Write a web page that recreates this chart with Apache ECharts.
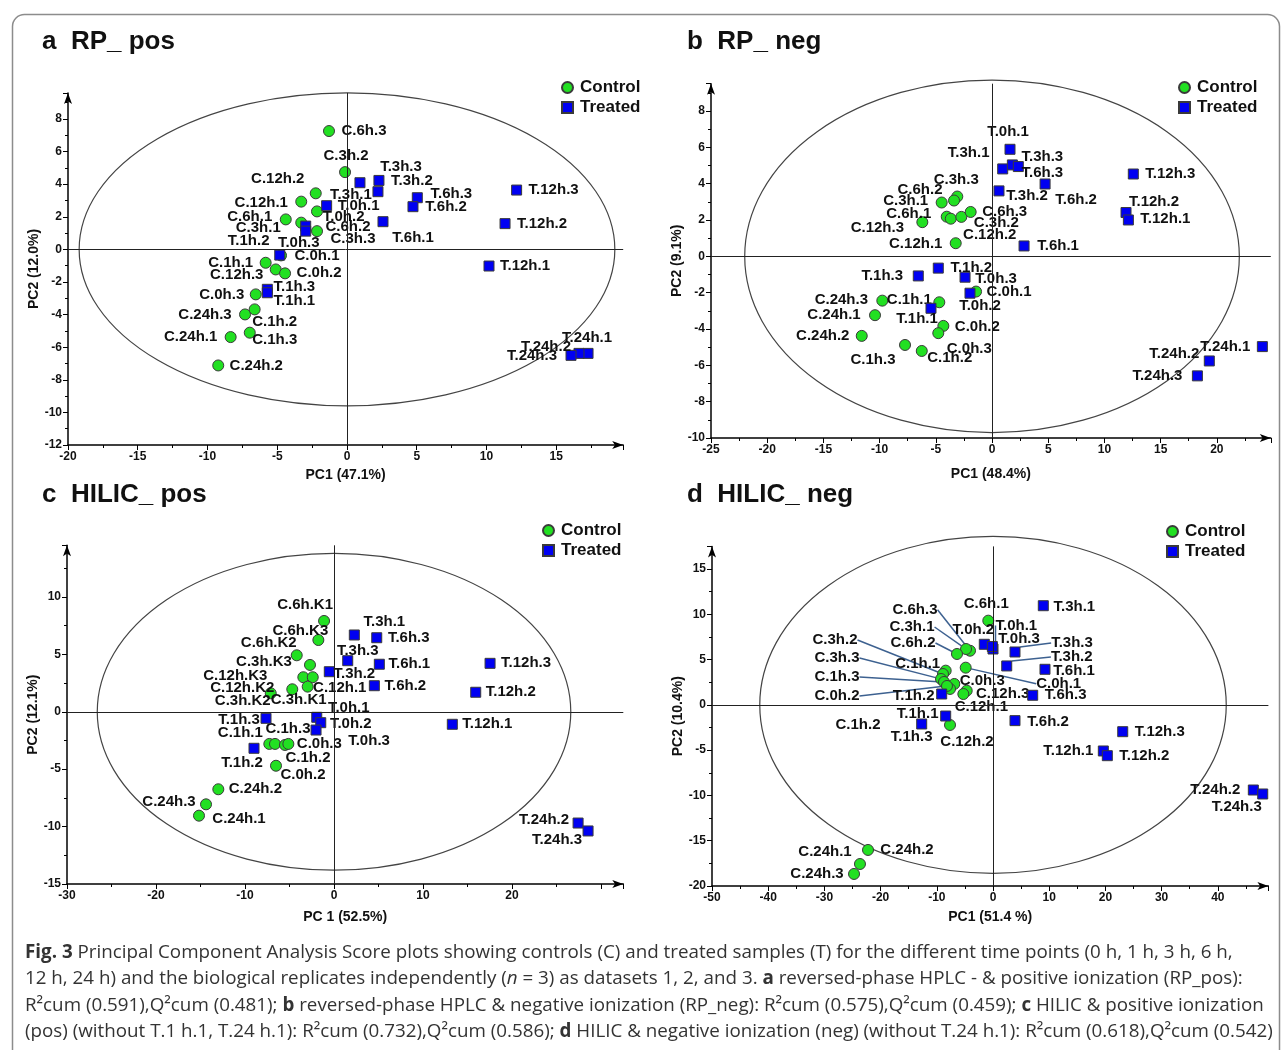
<!DOCTYPE html>
<html lang="en">
<head>
<meta charset="UTF-8">
<title>PCA score plots</title>
<script src="https://cdn.jsdelivr.net/npm/echarts@6/dist/echarts.min.js"></script>
<style>html,body{margin:0;padding:0;background:#fff}#chart{width:1284px;height:1050px}</style>
</head>
<body>
<div id="chart"></div>
<script>
// ---- data: [name, PC1, PC2] ----
var aControl = [
  ['C.6h.3', -1.29, 7.26], ['C.3h.2', -0.14, 4.74], ['C.12h.2', -2.24, 3.44], ['C.12h.1', -3.28, 2.93],
  ['C.6h.1', -4.39, 1.84], ['C.3h.1', -3.28, 1.64], ['C.6h.2', -2.15, 2.33], ['C.3h.3', -2.15, 1.12],
  ['C.0h.1', -4.73, -0.37], ['C.1h.1', -5.83, -0.82], ['C.12h.3', -5.11, -1.23], ['C.0h.2', -4.44, -1.47],
  ['C.0h.3', -6.54, -2.76], ['C.24h.3', -7.31, -3.99], ['C.1h.2', -6.62, -3.68], ['C.24h.1', -8.34, -5.38],
  ['C.1h.3', -6.97, -5.11], ['C.24h.2', -9.23, -7.12]
];
var aTreated = [
  ['T.3h.3', 0.93, 4.09], ['T.3h.2', 2.29, 4.23], ['T.3h.1', 2.22, 3.54], ['T.6h.3', 5.04, 3.17],
  ['T.6h.2', 4.73, 2.62], ['T.6h.1', 2.58, 1.70], ['T.0h.1', -1.46, 2.68], ['T.0h.2', -2.96, 1.43],
  ['T.1h.2', -2.96, 1.12], ['T.0h.3', -4.82, -0.35], ['T.1h.3', -5.71, -2.45], ['T.1h.1', -5.71, -2.66],
  ['T.12h.3', 12.16, 3.64], ['T.12h.2', 11.33, 1.58], ['T.12h.1', 10.18, -1.02],
  ['T.24h.1', 17.28, -6.38], ['T.24h.2', 16.63, -6.38], ['T.24h.3', 16.06, -6.50]
];
var bControl = [
  ['C.3h.3', -3.09, 3.29], ['C.6h.2', -3.38, 3.07], ['C.3h.1', -4.48, 2.96], ['C.6h.1', -4.03, 2.18],
  ['C.12h.2', -3.67, 2.07], ['C.3h.2', -2.73, 2.17], ['C.6h.3', -1.90, 2.44], ['C.12h.3', -6.20, 1.88],
  ['C.12h.1', -3.23, 0.72], ['C.0h.1', -1.42, -1.94], ['C.1h.1', -4.69, -2.53], ['C.24h.3', -9.76, -2.44],
  ['C.24h.1', -10.41, -3.24], ['C.24h.2', -11.59, -4.38], ['C.0h.2', -4.33, -3.83], ['C.0h.3', -4.78, -4.23],
  ['C.1h.3', -7.74, -4.88], ['C.1h.2', -6.25, -5.21]
];
var bTreated = [
  ['T.0h.1', 1.60, 5.89], ['T.3h.1', 0.95, 4.81], ['T.3h.3', 1.81, 5.03], ['T.6h.3', 2.34, 4.94],
  ['T.3h.2', 0.62, 3.60], ['T.6h.2', 4.72, 3.98], ['T.6h.1', 2.85, 0.57], ['T.1h.2', -4.78, -0.65],
  ['T.1h.3', -6.56, -1.08], ['T.0h.3', -2.40, -1.15], ['T.0h.2', -1.96, -2.03], ['T.1h.1', -5.43, -2.86],
  ['T.12h.3', 12.57, 4.53], ['T.12h.2', 11.92, 2.41], ['T.12h.1', 12.13, 2.00],
  ['T.24h.1', 24.05, -4.97], ['T.24h.2', 19.33, -5.76], ['T.24h.3', 18.27, -6.58]
];
var cControl = [
  ['C.6h.K1', -1.12, 7.91], ['C.6h.K3', -1.76, 6.25], ['C.6h.K2', -4.19, 4.92], ['C.3h.K3', -2.70, 4.08],
  ['C.12h.K3', -3.45, 3.01], ['C.12h.1', -2.39, 3.01], ['C.3h.K1', -2.96, 2.19], ['C.12h.K2', -4.69, 1.96],
  ['C.3h.K2', -7.11, 1.61], ['C.1h.1', -7.27, -2.80], ['C.1h.3', -6.63, -2.80], ['C.1h.2', -5.51, -2.89],
  ['C.0h.3', -5.13, -2.80], ['C.0h.2', -6.52, -4.70], ['C.24h.2', -13.0, -6.75], ['C.24h.3', -14.38, -8.06],
  ['C.24h.1', -15.17, -9.05]
];
var cTreated = [
  ['T.3h.1', 2.28, 6.69], ['T.6h.3', 4.80, 6.45], ['T.3h.3', 1.54, 4.45], ['T.3h.2', -0.53, 3.49],
  ['T.6h.1', 5.09, 4.14], ['T.6h.2', 4.53, 2.27], ['T.12h.3', 17.53, 4.22], ['T.12h.2', 15.92, 1.70],
  ['T.12h.1', 13.29, -1.09], ['T.0h.1', -1.94, -0.48], ['T.0h.2', -1.49, -0.95], ['T.0h.3', -2.02, -1.59],
  ['T.1h.3', -7.64, -0.57], ['T.1h.2', -8.99, -3.18], ['T.24h.2', 27.42, -9.69], ['T.24h.3', 28.54, -10.38]
];
var dControl = [
  ['C.6h.1', -0.84, 9.30], ['C.1h.1', -8.42, 3.78], ['C.0h.3', -6.89, 2.31], ['C.12h.3', -4.68, 1.57],
  ['C.12h.1', -5.28, 1.20], ['C.1h.2', -7.65, 1.76], ['C.12h.2', -7.65, -2.22], ['C.24h.2', -22.24, -16.02],
  ['C.24h.1', -23.67, -17.57], ['C.24h.3', -24.73, -18.67]
];
var dControlLinked = [
  ['C.6h.3', -4.09, 5.98], ['C.3h.1', -4.80, 6.17], ['C.6h.2', -6.41, 5.62], ['C.3h.2', -8.90, 3.41],
  ['C.3h.3', -9.25, 2.86], ['C.1h.3', -8.72, 2.53], ['C.0h.2', -8.19, 2.09], ['C.0h.1', -4.86, 4.11]
];
var dTreated = [
  ['T.3h.1', 8.95, 10.95], ['T.0h.2', -1.55, 6.69], ['T.0h.3', 0.0, 6.17], ['T.6h.1', 9.25, 3.93],
  ['T.6h.3', 7.06, 1.06], ['T.6h.2', 3.91, -1.74], ['T.1h.2', -9.13, 1.20], ['T.1h.1', -8.42, -1.23],
  ['T.1h.3', -12.69, -2.11], ['T.12h.3', 23.08, -2.96], ['T.12h.1', 19.63, -5.09], ['T.12h.2', 20.34, -5.61],
  ['T.24h.2', 46.32, -9.40], ['T.24h.3', 47.99, -9.84]
];
var dTreatedLinked = [
  ['T.0h.1', -0.12, 6.45], ['T.3h.3', 3.91, 5.84], ['T.3h.2', 2.44, 4.30]
];
// confidence ellipse semi-axes [PC1, PC2]
var aEllipse = [19.2, 9.6];
var bEllipse = [22.0, 9.7];
var cEllipse = [26.6, 13.8];
var dEllipse = [41.5, 18.6];

// label offsets in px from the point (style only)
var aOffsets = {
  'C.6h.3': [35, 0], 'C.3h.2': [1, -16], 'C.12h.2': [-38, -14], 'C.12h.1': [-40, 1], 'C.6h.1': [-36, -3],
  'C.3h.1': [-43, 5], 'C.6h.2': [31, 15], 'C.3h.3': [36, 8], 'C.0h.1': [36, 0], 'C.1h.1': [-35, 0],
  'C.12h.3': [-39, 5], 'C.0h.2': [34, 0], 'C.0h.3': [-34, 0], 'C.24h.3': [-40, 0], 'C.1h.2': [20, 12],
  'C.24h.1': [-40, 0], 'C.1h.3': [25, 7], 'C.24h.2': [38, 0],
  'T.3h.3': [41, -16], 'T.3h.2': [33, 0], 'T.3h.1': [-27, 3], 'T.6h.3': [34, -4], 'T.6h.2': [33, 0],
  'T.6h.1': [30, 16], 'T.0h.1': [32, 0], 'T.0h.2': [38, -9], 'T.1h.2': [-57, 10], 'T.0h.3': [19, -12],
  'T.1h.3': [27, -2], 'T.1h.1': [27, 8], 'T.12h.3': [37, 0], 'T.12h.2': [37, 0], 'T.12h.1': [36, 0],
  'T.24h.1': [-1, -16], 'T.24h.2': [-33, -7], 'T.24h.3': [-39, 1]
};
var bOffsets = {
  'C.3h.3': [-1, -17], 'C.6h.2': [-34, -11], 'C.3h.1': [-36, -2], 'C.6h.1': [-38, -3], 'C.12h.2': [39, 16],
  'C.3h.2': [35, 6], 'C.6h.3': [34, 0], 'C.12h.3': [-45, 6], 'C.12h.1': [-40, 1], 'C.0h.1': [33, 0],
  'C.1h.1': [-30, -2], 'C.24h.3': [-41, -1], 'C.24h.1': [-41, 0], 'C.24h.2': [-39, 0], 'C.0h.2': [34, 1],
  'C.0h.3': [31, 16], 'C.1h.3': [-32, 15], 'C.1h.2': [28, 7],
  'T.0h.1': [-2, -17], 'T.3h.1': [-34, -16], 'T.3h.3': [30, -8], 'T.6h.3': [24, 6], 'T.3h.2': [28, 5],
  'T.6h.2': [31, 16], 'T.6h.1': [34, 0], 'T.1h.2': [33, 0], 'T.1h.3': [-36, 0], 'T.0h.3': [31, 2],
  'T.0h.2': [10, 13], 'T.1h.1': [-14, 11], 'T.12h.3': [37, 0], 'T.12h.2': [28, -11], 'T.12h.1': [37, -1],
  'T.24h.1': [-37, 0], 'T.24h.2': [-35, -7], 'T.24h.3': [-40, 0]
};
var cOffsets = {
  'C.6h.K1': [-19, -16], 'C.6h.K3': [-18, -9], 'C.6h.K2': [-28, -12], 'C.3h.K3': [-46, -3],
  'C.12h.K3': [-68, -1], 'C.12h.1': [27, 11], 'C.3h.K1': [-9, 13], 'C.12h.K2': [-50, -1], 'C.3h.K2': [-28, 8],
  'C.1h.1': [-29, -11], 'C.1h.3': [13, -15], 'C.1h.2': [23, 13], 'C.0h.3': [31, 0], 'C.0h.2': [27, 9],
  'C.24h.2': [37, 0], 'C.24h.3': [-37, -2], 'C.24h.1': [40, 3],
  'T.3h.1': [30, -13], 'T.6h.3': [32, 0], 'T.3h.3': [10, -10], 'T.3h.2': [25, 2], 'T.6h.1': [30, 0],
  'T.6h.2': [31, 0], 'T.12h.3': [36, 0], 'T.12h.2': [35, 0], 'T.12h.1': [35, 0], 'T.0h.1': [32, -9],
  'T.0h.2': [30, 1], 'T.0h.3': [53, 11], 'T.1h.3': [-27, 2], 'T.1h.2': [-12, 15],
  'T.24h.2': [-34, -3], 'T.24h.3': [-31, 9]
};
var dOffsets = {
  'C.6h.1': [-2, -17], 'C.6h.3': [-55, -41], 'C.3h.1': [-54, -22], 'C.6h.2': [-44, -11], 'C.3h.2': [-108, -34],
  'C.3h.3': [-104, -21], 'C.1h.3': [-107, -5], 'C.0h.2': [-110, 10], 'C.1h.1': [-28, -7], 'C.0h.1': [93, 16],
  'C.0h.3': [28, -3], 'C.12h.3': [36, 3], 'C.12h.1': [18, 13], 'C.1h.2': [-92, 36], 'C.12h.2': [17, 17],
  'C.24h.2': [39, 0], 'C.24h.1': [-35, -12], 'C.24h.3': [-37, 0],
  'T.3h.1': [31, 1], 'T.0h.2': [-11, -14], 'T.0h.1': [24, -21], 'T.0h.3': [26, -10], 'T.3h.3': [57, -9],
  'T.3h.2': [65, -9], 'T.6h.1': [29, 2], 'T.6h.3': [33, 0], 'T.6h.2': [33, 1], 'T.1h.2': [-28, 2],
  'T.1h.1': [-28, -2], 'T.1h.3': [-10, 13], 'T.12h.3': [37, 0], 'T.12h.1': [-35, 0], 'T.12h.2': [37, 0],
  'T.24h.2': [-38, 0], 'T.24h.3': [-26, 13]
};

var FONT = '"Liberation Sans", Arial, sans-serif';
var CAPFONT = '"Open Sans", "Noto Sans", sans-serif';
var CAPSIZE = 18.8;
var GREEN = '#22e022';
var BLUE = '#0000f2';

var myChart = echarts.init(document.getElementById('chart'));

function toItems(rows) {
  return rows.map(function (r) { return { name: r[0], value: [r[1], r[2]] }; });
}

function pointSeries(name, k, rows, offsets, linked) {
  var isC = name === 'Control';
  var s = {
    name: name,
    type: 'scatter',
    xAxisIndex: k,
    yAxisIndex: k,
    data: toItems(rows),
    symbol: isC ? 'circle' : 'rect',
    symbolSize: isC ? 11 : 10,
    z: isC ? 3 : 4,
    itemStyle: { color: isC ? GREEN : BLUE, borderColor: '#3a3a3a', borderWidth: 1, opacity: 1 },
    label: {
      show: true, position: 'inside', formatter: '{b}',
      fontFamily: FONT, fontWeight: 'bold', fontSize: 15, color: '#111'
    },
    labelLayout: function (p) {
      var o = offsets[p.text] || [0, 0];
      return { dx: o[0], dy: o[1] };
    },
    emphasis: { disabled: true }
  };
  if (linked) {
    s.labelLine = { show: true, lineStyle: { color: '#3d6190', width: 1.5 } };
  }
  if (!linked && isC) {
    s.markLine = {
      silent: true, symbol: 'none', animation: false,
      label: { show: false },
      lineStyle: { color: '#222', width: 1, type: 'solid' },
      data: [{ xAxis: 0 }, { yAxis: 0 }]
    };
  }
  return s;
}

function ellipseSeries(k, axes) {
  return {
    type: 'custom',
    xAxisIndex: k,
    yAxisIndex: k,
    silent: true,
    z: 1,
    data: [[0, 0, axes[0], axes[1]]],
    encode: { x: 0, y: 1 },
    renderItem: function (params, api) {
      var c = api.coord([api.value(0), api.value(1)]);
      var rx = api.size([api.value(2), 0])[0];
      var ry = api.size([0, api.value(3)])[1];
      var d = 'M' + (c[0] - rx) + ' ' + c[1] +
        ' A' + rx + ' ' + ry + ' 0 1 0 ' + (c[0] + rx) + ' ' + c[1] +
        ' A' + rx + ' ' + ry + ' 0 1 0 ' + (c[0] - rx) + ' ' + c[1] + ' Z';
      return {
        type: 'path',
        shape: { pathData: d },
        style: { fill: 'none', stroke: '#444', lineWidth: 1.2 }
      };
    }
  };
}

function axis(k, min, max, interval, name, gap, lastLabel) {
  return {
    gridIndex: k,
    type: 'value',
    min: min,
    max: max,
    interval: interval,
    name: name,
    nameLocation: 'middle',
    nameGap: gap,
    nameTextStyle: { fontFamily: FONT, fontWeight: 'bold', fontSize: 14, color: '#111' },
    axisLine: {
      show: true, onZero: false, symbol: ['none', 'arrow'], symbolSize: [6, 11],
      lineStyle: { color: '#000', width: 1.5 }
    },
    axisTick: { show: true, length: 5, lineStyle: { color: '#000' } },
    minorTick: { show: true, splitNumber: 2, length: 3, lineStyle: { color: '#000' } },
    axisLabel: {
      fontFamily: FONT, fontWeight: 'bold', fontSize: 12, color: '#111',
      margin: 6, showMaxLabel: false,
      formatter: function (v) { return v > lastLabel ? '' : String(v); }
    },
    splitLine: { show: false }
  };
}

function legendAt(left, top) {
  return {
    left: left - 5, top: top - 5, orient: 'vertical', itemGap: 3, itemWidth: 11, itemHeight: 11,
    selectedMode: false,
    textStyle: { fontFamily: FONT, fontWeight: 'bold', fontSize: 17, color: '#111', lineHeight: 16, padding: [0, 0, 0, 2] },
    data: [{ name: 'Control', icon: 'circle' }, { name: 'Treated', icon: 'rect' }]
  };
}

function titleText(x, y, txt) {
  return {
    type: 'text', left: x, top: y - 12,
    style: { text: txt, fontFamily: FONT, fontWeight: 'bold', fontSize: 26, fill: '#111' }
  };
}

var capRich = {
  b: { fontFamily: CAPFONT, fontSize: CAPSIZE, fontWeight: 'bold', fill: '#333' },
  i: { fontFamily: CAPFONT, fontSize: CAPSIZE, fontStyle: 'italic', fill: '#333' }
};
var captionLines = [
  '{b|Fig. 3} Principal Component Analysis Score plots showing controls (C) and treated samples (T) for the different time points (0 h, 1 h, 3 h, 6 h,',
  '12 h, 24 h) and the biological replicates independently ({i|n} = 3) as datasets 1, 2, and 3. {b|a} reversed-phase HPLC - & positive ionization (RP_pos):',
  'R\u00b2cum (0.591),Q\u00b2cum (0.481); {b|b} reversed-phase HPLC & negative ionization (RP_neg): R\u00b2cum (0.575),Q\u00b2cum (0.459); {b|c} HILIC & positive ionization',
  '(pos) (without T.1 h.1, T.24 h.1): R\u00b2cum (0.732),Q\u00b2cum (0.586); {b|d} HILIC & negative ionization (neg) (without T.24 h.1): R\u00b2cum (0.618),Q\u00b2cum (0.542)'
];
var captionY = [953, 979.5, 1006, 1032];

var graphics = [
  {
    type: 'rect', left: 10, top: 12, silent: true,
    shape: { width: 1267, height: 1060, r: 12 },
    style: { fill: 'none', stroke: '#8c8c8c', lineWidth: 1.5 }
  },
  titleText(42, 41, 'a  RP_ pos'),
  titleText(687, 41, 'b  RP_ neg'),
  titleText(42, 494, 'c  HILIC_ pos'),
  titleText(687, 494, 'd  HILIC_ neg')
];
captionLines.forEach(function (t, i) {
  graphics.push({
    type: 'text', left: 25, top: captionY[i] - 10,
    style: { text: t, rich: capRich, fontFamily: CAPFONT, fontSize: CAPSIZE, fill: '#333' }
  });
});

var option = {
  animation: false,
  backgroundColor: '#fff',
  grid: [
    { left: 68, top: 92.9, width: 555.2, height: 352.1 },
    { left: 711, top: 83.7, width: 559.8, height: 354.3 },
    { left: 67, top: 545.3, width: 556.3, height: 338.7 },
    { left: 712, top: 546.4, width: 556.4, height: 339.6 }
  ],
  xAxis: [
    axis(0, -20, 19.8, 5, 'PC1 (47.1%)', 23, 15),
    axis(1, -25, 24.8, 5, 'PC1 (48.4%)', 29, 20),
    axis(2, -30, 32.5, 10, 'PC 1 (52.5%)', 26, 20),
    axis(3, -50, 49, 10, 'PC1 (51.4 %)', 24, 40)
  ],
  yAxis: [
    axis(0, -12, 9.6, 2, 'PC2 (12.0%)', 26, 8),
    axis(1, -10, 9.5, 2, 'PC2 (9.1%)', 27, 8),
    axis(2, -15, 14.5, 5, 'PC2 (12.1%)', 23, 10),
    axis(3, -20, 17.5, 5, 'PC2 (10.4%)', 23, 15)
  ],
  legend: [legendAt(561, 79), legendAt(1178, 79), legendAt(542, 522), legendAt(1166, 523)],
  graphic: graphics,
  series: [
    ellipseSeries(0, aEllipse),
    pointSeries('Control', 0, aControl, aOffsets),
    pointSeries('Treated', 0, aTreated, aOffsets),
    ellipseSeries(1, bEllipse),
    pointSeries('Control', 1, bControl, bOffsets),
    pointSeries('Treated', 1, bTreated, bOffsets),
    ellipseSeries(2, cEllipse),
    pointSeries('Control', 2, cControl, cOffsets),
    pointSeries('Treated', 2, cTreated, cOffsets),
    ellipseSeries(3, dEllipse),
    pointSeries('Control', 3, dControl, dOffsets),
    pointSeries('Control', 3, dControlLinked, dOffsets, true),
    pointSeries('Treated', 3, dTreated, dOffsets),
    pointSeries('Treated', 3, dTreatedLinked, dOffsets, true)
  ]
};

myChart.setOption(option);
</script>
</body>
</html>
